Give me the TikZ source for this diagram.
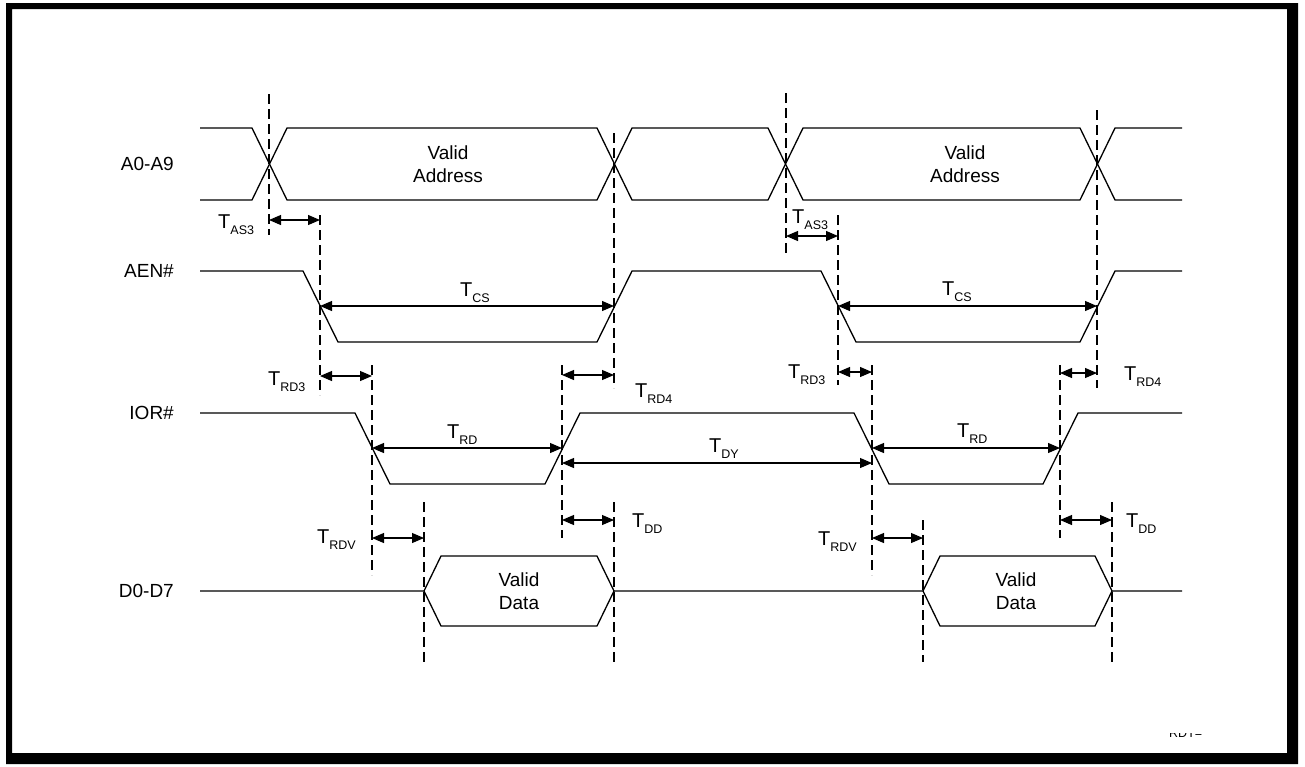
\documentclass[tikz,border=0pt]{standalone}
\usepackage{fontspec}
\setmainfont{Liberation Sans}
\usetikzlibrary{arrows.meta,calc}
\newcommand{\tlab}[1]{{\fontsize{20}{23}\selectfont T}\raisebox{-6.5pt}{\fontsize{12.5}{13}\selectfont #1}}

\begin{document}
\begin{tikzpicture}
		[
		x = 1pt, y = -1pt,
		font = \fontsize{19}{23}\selectfont,
		wave/.style = {line width = 1.3pt, line join = miter},
		guide/.style = {line width = 1.1pt, dash pattern = on 10pt off 5pt},
		dim/.style = {line width = 1.1pt, {Triangle[length=12pt,width=10pt]}-{Triangle[length=12pt,width=10pt]}},
		sig/.style = {anchor = east, inner sep = 0pt},
		tlabel/.style = {anchor = base west, inner sep = 0pt},
		valid/.style = {align = center, inner sep = 0pt},
		]
		
		\useasboundingbox (0,0) rectangle (1305,766);
		\fill[even odd rule] (6,3) rectangle (1298,764) (12,9) rectangle (1287,753);
		
		\node[sig] (a09) at (174,164) {A0-A9};
		\node[sig] (aen) at (174,271) {AEN\#};
		\node[sig] (ior) at (174,413) {IOR\#};
		\node[sig] (d07) at (174,591) {D0-D7};
		
		\draw[wave] (200,128) -- (252,128) -- (287,200) -- (597,200) -- (632,128) -- (768,128)
			-- (803,200) -- (1080,200) -- (1115,128) -- (1182,128);
		\draw[wave] (200,200) -- (252,200) -- (287,128) -- (597,128) -- (632,200) -- (768,200)
			-- (803,128) -- (1080,128) -- (1115,200) -- (1182,200);
		\draw[wave] (200,271) -- (303,271) -- (338,342) -- (597,342) -- (632,271) -- (821,271)
			-- (856,342) -- (1080,342) -- (1115,271) -- (1182,271);
		\draw[wave] (200,413) -- (355,413) -- (390,484) -- (545,484) -- (580,413) -- (854,413)
			-- (889,484) -- (1043,484) -- (1078,413) -- (1182,413);
		\draw[wave] (200,591) -- (424,591) -- (441,556) -- (597,556) -- (614,591) -- (923,591)
			-- (940,556) -- (1095,556) -- (1112,591) -- (1182,591);
		\draw[wave] (424,591) -- (441,626) -- (597,626) -- (614,591);
		\draw[wave] (923,591) -- (940,626) -- (1095,626) -- (1112,591);
		
		\node[valid] (va1) at (448,164) {Valid\\Address};
		\node[valid] (va2) at (965,164) {Valid\\Address};
		\node[valid] (vd1) at (519,591) {Valid\\Data};
		\node[valid] (vd2) at (1016,591) {Valid\\Data};
		
		\foreach \n/\x/\ya/\yb in {adr1/269/94/235, aen1/320/215/395, iorf1/372/365/575,
			dat1/424/502/662, iorr1/562/365/538, adr2/614/133/388, dat2/614/502/662,
			adr3/786/93/253, aen2/838/215/385, iorf2/872/365/575, dat3/923/520/662,
			iorr2/1060/365/538, adr4/1097/110/388, dat4/1112/502/662}
		{
			\coordinate (\n) at (\x,0);
			\draw[guide] (\x,\ya) -- (\x,\yb);
		}
		
		\foreach \p/\q/\y in {adr1/aen1/220, aen1/adr2/306, aen1/iorf1/376, iorr1/adr2/375,
			iorf1/iorr1/448, iorr1/iorf2/463, iorf1/dat1/538, iorr1/dat2/520,
			adr3/aen2/236, aen2/adr4/306, aen2/iorf2/372, iorr2/adr4/373,
			iorf2/iorr2/448, iorf2/dat3/538, iorr2/dat4/520}
			\draw[dim] ($(\p)+(0,\y)$) -- ($(\q)+(0,\y)$);
		
		\node[tlabel] (tas3a) at (218,228) {\tlab{AS3}};
		\node[tlabel] (tcsa) at (460,296) {\tlab{CS}};
		\node[tlabel] (trd3a) at (268,385) {\tlab{RD3}};
		\node[tlabel] (trd4a) at (635,397) {\tlab{RD4}};
		\node[tlabel] (trda) at (447,438) {\tlab{RD}};
		\node[tlabel] (tdy) at (709,452) {\tlab{DY}};
		\node[tlabel] (trdva) at (317,543) {\tlab{RDV}};
		\node[tlabel] (tdda) at (632,527) {\tlab{DD}};
		\node[tlabel] (tas3b) at (792,223) {\tlab{AS3}};
		\node[tlabel] (tcsb) at (942,295) {\tlab{CS}};
		\node[tlabel] (trd3b) at (788,378) {\tlab{RD3}};
		\node[tlabel] (trd4b) at (1124,380) {\tlab{RD4}};
		\node[tlabel] (trdb) at (957,437) {\tlab{RD}};
		\node[tlabel] (trdvb) at (818,545) {\tlab{RDV}};
		\node[tlabel] (tddb) at (1126,527) {\tlab{DD}};
		
		\begin{scope}
			\clip (1160,733) rectangle (1215,741);
			\node[tlabel, font = \fontsize{12.5}{13}\selectfont] (ref) at (1169,737) {RDT=};
		\end{scope}
		
\end{tikzpicture}
\end{document}
